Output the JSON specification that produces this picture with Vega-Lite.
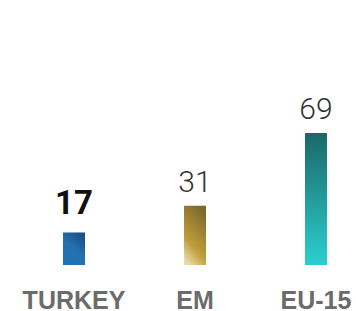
{
  "$schema": "https://vega.github.io/schema/vega-lite/v6.json",
  "width": 356,
  "height": 265,
  "padding": {"left": 0, "top": 0, "right": 0, "bottom": 46},
  "autosize": {"type": "none"},
  "background": "white",
  "data": {"values": [
    {"country": "TURKEY", "value": 17},
    {"country": "EM", "value": 31},
    {"country": "EU-15", "value": 69}
  ]},
  "encoding": {
    "x": {"field": "country", "type": "nominal", "sort": null,
      "scale": {"range": [13.5, 376.5], "paddingInner": 0, "paddingOuter": 0},
      "axis": {"title": null, "domain": false, "ticks": false, "labelAngle": 0,
        "labelFont": "Liberation Sans", "labelFontSize": 25, "labelFontWeight": "bold",
        "labelColor": "#6b6b6b", "labelPadding": 23}},
    "y": {"field": "value", "type": "quantitative",
      "scale": {"domain": [0, 138.5], "nice": false, "zero": true},
      "axis": null}
  },
  "layer": [
    {"transform": [{"filter": "datum.country === 'TURKEY'"}],
     "mark": {"type": "bar", "size": 22,
       "color": {"gradient": "linear", "x1": 0.2, "y1": 1, "x2": 0.8, "y2": 0,
         "stops": [{"offset": 0, "color": "#1f72b8"}, {"offset": 0.5, "color": "#2470b0"}, {"offset": 1, "color": "#1c4d86"}]}}},
    {"transform": [{"filter": "datum.country === 'EM'"}],
     "mark": {"type": "bar", "size": 22,
       "color": {"gradient": "linear", "x1": 0.2, "y1": 1, "x2": 0.6, "y2": 0,
         "stops": [{"offset": 0, "color": "#ecdcaa"}, {"offset": 0.35, "color": "#bf9d3a"}, {"offset": 1, "color": "#7e6a2c"}]}}},
    {"transform": [{"filter": "datum.country === 'EU-15'"}],
     "mark": {"type": "bar", "size": 22,
       "color": {"gradient": "linear", "x1": 0, "y1": 1, "x2": 0, "y2": 0,
         "stops": [{"offset": 0, "color": "#2ccfcf"}, {"offset": 1, "color": "#1b6868"}]}}},
    {"transform": [{"filter": "datum.country === 'TURKEY'"}],
     "mark": {"type": "text", "baseline": "alphabetic", "dy": -18, "font": "Roboto",
       "fontSize": 33, "fontWeight": "bold", "color": "#111111"},
     "encoding": {"text": {"field": "value", "type": "quantitative"}}},
    {"transform": [{"filter": "datum.country !== 'TURKEY'"}],
     "mark": {"type": "text", "baseline": "alphabetic", "dy": -14, "font": "Roboto",
       "fontSize": 30, "fontWeight": 300, "color": "#333333"},
     "encoding": {"text": {"field": "value", "type": "quantitative"}}}
  ],
  "config": {"view": {"stroke": null}}
}
